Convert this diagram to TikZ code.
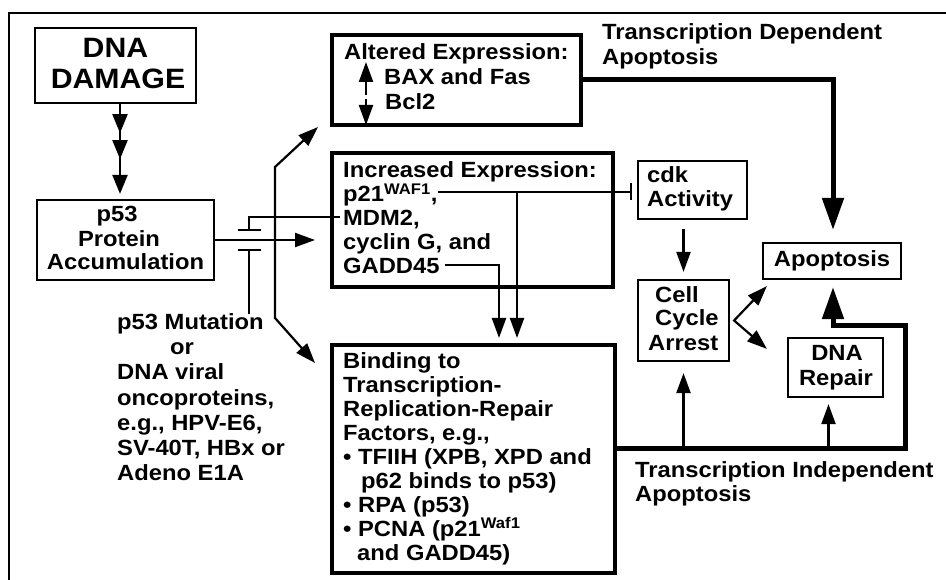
\documentclass[tikz,border=0pt]{standalone}
\usepackage{fontspec}
\setmainfont{Liberation Sans}[FakeStretch=1.08]
\usetikzlibrary{arrows.meta,decorations.markings,calc}

\begin{document}
\begin{tikzpicture}[x=1pt,y=-1pt,
  txt/.style={font=\fontsize{22}{24}\selectfont\bfseries, inner sep=0pt},
  big/.style={font=\fontsize{28}{31}\selectfont\bfseries, inner sep=0pt, anchor=base},
  ln/.style={txt, anchor=base west},
  lnc/.style={txt, anchor=base},
  thinbox/.style={draw, line width=2.2pt, inner sep=0pt},
  thickbox/.style={draw, line width=4pt, inner sep=0pt},
  thin/.style={line width=2.2pt},
  heavy/.style={line width=5pt},
  tipS/.tip={Triangle[length=20pt,width=14pt]},
  tipL/.tip={Triangle[length=32pt,width=21pt]},
  tripl/.style={postaction={decorate}, decoration={markings,
     mark=at position 29pt with {\arrow{Triangle[length=19pt,width=15pt]}},
     mark=at position 55pt with {\arrow{Triangle[length=19pt,width=15pt]}}}},
]
\useasboundingbox (0,0) rectangle (946,580);

% frame (top and left edges)
\draw[line width=2pt] (9,582) -- (9,13) -- (948,13);

% boxes
\node[thinbox, minimum width=161pt, minimum height=75pt]  (dna)  at (115.5,65.5) {};
\node[thinbox, minimum width=177pt, minimum height=80pt]  (p53)  at (125.5,240) {};
\node[thickbox, minimum width=249pt, minimum height=90pt] (alt)  at (456.5,80) {};
\node[thickbox, minimum width=281pt, minimum height=134pt] (incr) at (472.5,220) {};
\node[thickbox, minimum width=283pt, minimum height=228pt] (bind) at (473.5,459) {};
\node[thinbox, minimum width=109pt, minimum height=58pt]  (cdk)  at (692.5,190) {};
\node[thinbox, minimum width=91pt, minimum height=81pt]   (cca)  at (683.5,320.5) {};
\node[thinbox, minimum width=138pt, minimum height=36pt]  (apop) at (832,261) {};
\node[thinbox, minimum width=95pt, minimum height=59pt]   (rep)  at (835.5,367.5) {};

% box texts
\node[big] (dnaA) at (115.5,58) {DNA};
\node[big] (dnaB) at (118,89) {DAMAGE};

\node[lnc] (p53a) at (117,222) {p53};
\node[lnc] (p53b) at (119,247) {Protein};
\node[lnc] (p53c) at (125.5,270) {Accumulation};

\node[ln] (alta) at (344,60) {Altered Expression:};
\node[ln] (altb) at (384,85) {BAX and Fas};
\node[ln] (altc) at (385,110) {Bcl2};

\node[ln] (inca) at (343,178) {Increased Expression:};
\node[ln] (p21)  at (343,202) {p21\textsuperscript{WAF1},};
\node[ln] (mdm)  at (343,226) {MDM2,};
\node[ln] (cyc)  at (343,250) {cyclin G, and};
\node[ln] (gadd) at (343,274) {GADD45};

\node[ln] (bia) at (343,368) {Binding to};
\node[ln] (bib) at (343,392) {Transcription-};
\node[ln] (bic) at (343,416) {Replication-Repair};
\node[ln] (bid) at (343,440) {Factors, e.g.,};
\node[ln] (bie) at (343,464) {• TFIIH (XPB, XPD and};
\node[ln] (bif) at (343,488) {\hspace*{18pt}p62 binds to p53)};
\node[ln] (big) at (343,512) {• RPA (p53)};
\node[ln] (bih) at (343,536) {• PCNA (p21\textsuperscript{Waf1}};
\node[ln] (bii) at (343,560) {\hspace*{14pt}and GADD45)};

\node[ln] (cdka) at (647,183) {cdk};
\node[ln] (cdkb) at (647,207) {Activity};

\node[ln] (ccaa) at (655,303) {Cell};
\node[ln] (ccab) at (655,326) {Cycle};
\node[ln] (ccac) at (648,350) {Arrest};

\node[lnc] (apopt) at (832,267) {Apoptosis};

\node[lnc] (repa) at (837,360) {DNA};
\node[lnc] (repb) at (836,385) {Repair};

% free labels
\node[ln] (tda) at (602,40) {Transcription Dependent};
\node[ln] (tdb) at (602,65) {Apoptosis};
\node[ln] (tia) at (635,477) {Transcription Independent};
\node[ln] (tib) at (635,501) {Apoptosis};

\node[ln] (mut1) at (117,330) {p53 Mutation};
\node[ln] (mut2) at (170,355) {or};
\node[ln] (mut3) at (117,380) {DNA viral};
\node[ln] (mut4) at (117,405) {oncoproteins,};
\node[ln] (mut5) at (117,430) {e.g., HPV-E6,};
\node[ln] (mut6) at (117,455) {SV-40T, HBx or};
\node[ln] (mut7) at (117,480) {Adeno E1A};

% connectors
\draw[thin, tripl, -{Triangle[length=19pt,width=15pt]}, shorten >=5pt]
  ([xshift=4.5pt]dna.south) -- ([xshift=4.5pt]dna.south |- p53.north);

\draw[thin, -tipS] (p53.east) -- ([xshift=-15pt]p53.east -| incr.west);

\coordinate (blk) at (249,240);
\draw[thin, -{Bar[width=23pt]}] ([shift={(-3pt,9pt)}]mdm.base west) -| ([yshift=9pt]blk);
\draw[thin, -{Bar[width=23pt]}] (mut1.north -| blk) -- ([yshift=-9pt]blk);

\coordinate (brk) at (275,240);
\draw[thin, tipS-tipS]
  ([xshift=-12pt]alt.south west) -- ([yshift=73pt]brk) -- ([yshift=-78pt]brk)
  -- ([shift={(-15pt,-20pt)}]bind.north west);

\draw[thin, tipS-tipS, dash pattern=on 14pt off 4pt]
  ([shift={(36pt,65pt)}]alt.south west) -- ([shift={(36pt,2pt)}]alt.south west);

\coordinate (p21e) at ([yshift=10pt]p21.base east);
\draw[thin, -{Bar[width=17pt]}, shorten >=5pt] (p21e) -- (p21e -| cdk.west);
\draw[thin, -tipS, shorten >=5pt]
  ([xshift=43.5pt]bind.north |- p21e) -- ([xshift=43.5pt]bind.north);
\draw[thin, -tipS, shorten >=5pt]
  ([shift={(5pt,9pt)}]gadd.base east) -| ([xshift=25.5pt]bind.north);

\draw[heavy, -tipL, shorten >=12pt] (alt.east) -| ([xshift=1pt]apop.north);

\draw[thin, -tipS] ([yshift=-9pt]cdk.south -| cca.north) -- ([yshift=7pt]cca.north);

\draw[thin, tipS-tipS]
  ([shift={(5pt,-6pt)}]apop.south west) -- ([xshift=4pt]cca.east)
  -- ([shift={(-20pt,-12pt)}]rep.north west);

\coordinate (ti0) at ([yshift=11pt]bind.east);
\draw[heavy, -tipL, shorten >=7pt] (ti0) -- (905,448) -- (905,326) -| ([xshift=1pt]apop.south);
\draw[thin, -tipS, shorten >=11pt] (cca.south |- ti0) -- (cca.south);
\draw[thin, -tipS, shorten >=6pt] ([xshift=-7pt]rep.south |- ti0) -- ([xshift=-7pt]rep.south);
\end{tikzpicture}
\end{document}
